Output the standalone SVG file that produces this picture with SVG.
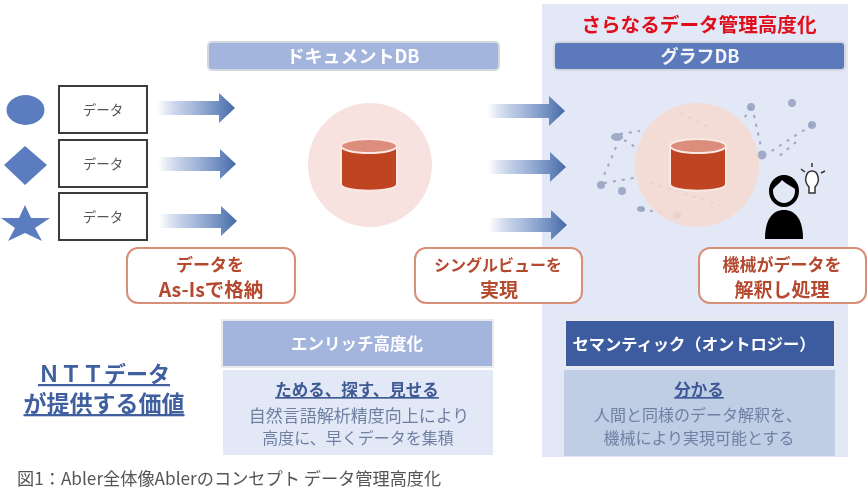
<svg xmlns="http://www.w3.org/2000/svg" width="868" height="500" viewBox="0 0 868 500">
<style>
text{font-family:"Noto Sans CJK JP","Noto Sans",sans-serif;text-anchor:middle}
.hd{stroke:#d4d8dc;stroke-width:2}
.box{fill:#fff;stroke:#3a3a3a;stroke-width:2}
.dt{font-size:13.500px;fill:#555}
.blue{fill:#5b7cc0}
.call{fill:#fff;stroke:#d88f78;stroke-width:2}
.ct{font-size:17px;font-weight:700;fill:#b5492f}
.cl{font-size:19px;font-weight:700;fill:#b5492f}
.bt{font-size:16px;fill:#6f80a3}
.u{font-size:16.500px;font-weight:700;fill:#3e5a94;text-decoration:underline}
.net{stroke:#8c99b8;stroke-width:2;stroke-dasharray:3 6;fill:none;opacity:.8}
.nd{fill:#8f9cbb;opacity:.8}
</style>
<defs>
<linearGradient id="ag"><stop offset="0" stop-color="#8ea6d2" stop-opacity="0"/><stop offset=".45" stop-color="#a9bbdd"/><stop offset=".78" stop-color="#6f8dc0"/><stop offset="1" stop-color="#446aa6"/></linearGradient>
<path id="arrow" d="M0-7H62V-15L78 0L62 15V7H0Z" fill="url(#ag)"/>
<g id="cyl"><path d="M-28-19V19C-28 28 28 28 28 19V-19Z" fill="#bf4424" stroke="#fbe9e4" stroke-width="2"/><ellipse cx="0" cy="-19" rx="28" ry="7" fill="#dc8d7c" stroke="#fbe9e4" stroke-width="2"/></g>
<filter id="soft" x="-2%" y="-2%" width="104%" height="104%"><feGaussianBlur stdDeviation=".45"/></filter>
</defs>
<rect width="868" height="500" fill="#fff"/>
<g filter="url(#soft)">
<rect id="panel" x="542" y="4" width="306" height="453" fill="#e3e8f6"/>
<g id="connectors">
<use href="#arrow" x="157" y="108"/>
<use href="#arrow" x="158" y="164"/>
<use href="#arrow" x="159" y="221"/>
<use href="#arrow" x="487" y="111"/>
<use href="#arrow" x="488" y="167"/>
<use href="#arrow" x="489" y="225"/>
</g>
<g id="title"><text x="699" y="32" font-size="19.600" font-weight="700" fill="#e0101c">さらなるデータ管理高度化</text></g>
<g id="doc-db-header"><rect class="hd" x="208" y="42" width="291" height="28" rx="4" fill="#a3b5dc"/><text x="353" y="63" font-size="18" font-weight="700" fill="#fff">ドキュメントDB</text></g>
<g id="graph-db-header"><rect class="hd" x="554" y="42" width="291" height="28" rx="4" fill="#5b79bb"/><text x="700" y="63" font-size="18" font-weight="700" fill="#f2f4fa">グラフDB</text></g>
<g id="source-circle"><ellipse class="blue" cx="25.500" cy="110" rx="19" ry="15"/></g>
<g id="source-diamond"><path class="blue" d="M25 146L47 165L25 185L4 165Z"/></g>
<g id="source-star"><path class="blue" d="M25 205L31 218L50 218L35 228L42 241L25 233L8 241L15 228L1 218L19 218Z"/></g>
<g id="data-1"><rect class="box" x="59" y="86" width="88" height="47"/><text class="dt" x="103" y="115">データ</text></g>
<g id="data-2"><rect class="box" x="59" y="140" width="88" height="47"/><text class="dt" x="103" y="169">データ</text></g>
<g id="data-3"><rect class="box" x="59" y="193" width="88" height="47"/><text class="dt" x="103" y="222">データ</text></g>
<g id="doc-db"><circle cx="370" cy="165" r="62" fill="#f8e2df"/><use href="#cyl" x="369" y="165"/></g>
<g id="graph-net">
<path class="net" d="M620 134L640 131M624 140L637 148M616 147L602 180M604 183L634 178M641 209L668 214M751 107L742 122M754 115L761 147M812 125L770 152M796 142L778 157M680 113L710 128M650 183L720 205"/>
<ellipse class="nd" cx="617" cy="137" rx="6" ry="4"/><circle class="nd" cx="601" cy="185" r="4"/><circle class="nd" cx="622" cy="191" r="4"/><ellipse class="nd" cx="641" cy="209" rx="4" ry="3"/><circle class="nd" cx="677" cy="215" r="4"/><circle class="nd" cx="751" cy="107" r="4"/><circle class="nd" cx="792" cy="103" r="4"/><circle class="nd" cx="812" cy="125" r="4"/><circle class="nd" cx="762" cy="155" r="4.500"/>
</g>
<g id="graph-db"><circle cx="697" cy="165" r="62" fill="#f6d9d0" opacity=".85"/><use href="#cyl" x="698" y="165"/></g>
<g id="person">
<ellipse cx="784" cy="191" rx="13" ry="14" fill="#e3e8f6" stroke="#000" stroke-width="4"/><path d="M771 192C768 170 800 170 798 192C793 186 787 185 782 180C779 184 775 186 771 192Z" fill="#000"/>
<path d="M765 239C765 220 772 210 784 210C796 210 803 220 803 239Z" fill="#000"/>
<path d="M809 193V187C803 181 806 171 812 171C818 171 821 181 815 187V193Z" fill="#fff" stroke="#333" stroke-width="1.500"/>
<path d="M812 163V167M801 169L805 172M825 171L821 173" stroke="#333" stroke-width="1.500"/>
</g>
<g id="callout-1"><rect class="call" x="127" y="248" width="168" height="55" rx="11"/><text class="ct" x="210" y="271">データを</text><text x="211" y="297" font-size="19.500" font-weight="700" fill="#b5492f">As-Isで格納</text></g>
<g id="callout-2"><rect class="call" x="415" y="248" width="167" height="55" rx="11"/><text x="498" y="271" font-size="16" font-weight="700" fill="#b5492f">シングルビューを</text><text class="cl" x="499" y="297">実現</text></g>
<g id="callout-3"><rect class="call" x="699" y="248" width="167" height="55" rx="11"/><text class="ct" x="782" y="271">機械がデータを</text><text class="cl" x="782" y="297">解釈し処理</text></g>
<g id="enrich"><rect x="223" y="370" width="270" height="85" fill="#e3e8f6"/><rect x="222" y="320" width="271" height="47" fill="#a3b5dc" stroke="#e8eaee" stroke-width="2"/><text x="357" y="350" font-size="16.500" font-weight="700" fill="#fff">エンリッチ高度化</text>
<text class="u" x="357" y="396">ためる、探す、見せる</text><text x="359" y="422" font-size="17" fill="#6f80a3">自然言語解析精度向上により</text><text class="bt" x="358" y="444">高度に、早くデータを集積</text></g>
<g id="semantic"><rect x="564" y="370" width="271" height="86" fill="#bfcde5"/><rect x="565" y="320" width="270" height="47" fill="#3e5b9f" stroke="#e8eaee" stroke-width="2"/><text x="694" y="350" font-size="16.300" font-weight="700" fill="#fff">セマンティック（オントロジー）</text>
<text class="u" x="699" y="396">分かる</text><text class="bt" x="698" y="421">人間と同様のデータ解釈を、</text><text class="bt" x="699" y="444">機械により実現可能とする</text></g>
<g id="ntt"><text x="104" y="382" font-size="22" font-weight="700" fill="#3f5e9e" text-decoration="underline">ＮＴＴデータ</text><text x="104" y="412" font-size="23" font-weight="700" fill="#3f5e9e" text-decoration="underline">が提供する価値</text></g>
<g id="caption"><text x="17" y="485" font-size="17.200" fill="#555" style="text-anchor:start">図1：Abler全体像Ablerのコンセプト データ管理高度化</text></g>
</g>
</svg>
